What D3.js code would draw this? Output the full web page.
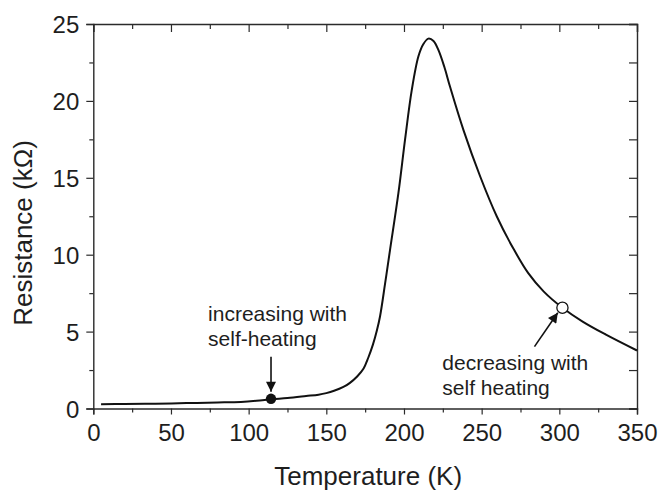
<!DOCTYPE html>
<html>
<head>
<meta charset="utf-8">
<script src="https://cdn.jsdelivr.net/npm/d3@7"></script>
<style>
  html, body { margin: 0; padding: 0; background: #fff; }
  svg { display: block; font-family: "Liberation Sans", Arial, Helvetica, sans-serif; }
</style>
</head>
<body>
<svg id="chart" width="670" height="490"></svg>
<script>
// ---- Data ----
const temperature = [5, 20, 40, 60, 80, 95, 105, 115, 125, 137, 145, 150, 155, 161, 165, 170, 174, 177, 180, 182.5, 184.6, 187.8, 191, 196.4, 200.7, 205, 209.3, 212.5, 215.7, 219, 222.2, 226, 229.7, 238.3, 249, 259.7, 270.4, 280, 290, 302, 315, 330, 350];
const resistance  = [0.28, 0.29, 0.31, 0.35, 0.39, 0.43, 0.5, 0.6, 0.68, 0.81, 0.9, 1.0, 1.15, 1.4, 1.65, 2.1, 2.6, 3.3, 4.15, 5.05, 6.0, 8.1, 10.3, 14.0, 17.5, 20.7, 22.9, 23.7, 24.05, 23.9, 23.3, 22.2, 20.9, 18.1, 15.1, 12.5, 10.4, 8.8, 7.6, 6.55, 5.65, 4.8, 3.77];

const xTicks = [0, 50, 100, 150, 200, 250, 300, 350];
const yTicks = [0, 5, 10, 15, 20, 25];
const xMinorTicks = [25, 75, 125, 175, 225, 275, 325];
const yMinorTicks = [2.5, 7.5, 12.5, 17.5, 22.5];

const xLabel = "Temperature (K)";
const yLabel = "Resistance (kΩ)";

// marked points: [T, R]
const heatingUpPoint = [114.4, 0.63];
const heatingDownPoint = [302, 6.55];
const annotationUp = ["increasing with", "self-heating"];
const annotationDown = ["decreasing with", "self heating"];

// ---- Layout ----
const margin = { left: 93.3, top: 24, right: 670 - 637, bottom: 490 - 408.5 };
const W = 670, H = 490;
const x = d3.scaleLinear().domain([0, 350]).range([margin.left, W - margin.right]);
const y = d3.scaleLinear().domain([0, 25]).range([H - margin.bottom, margin.top]);

const svg = d3.select("#chart");
const axisColor = "#2b2b2b";
const textColor = "#1e1e1e";

// defs: arrow head
svg.append("defs").append("marker")
  .attr("id", "arrow")
  .attr("viewBox", "0 0 10 10")
  .attr("refX", 10).attr("refY", 5)
  .attr("markerWidth", 16).attr("markerHeight", 10)
  .attr("markerUnits", "userSpaceOnUse")
  .attr("orient", "auto")
  .append("path").attr("d", "M0,0 L10,5 L0,10 Z").attr("fill", "#111");

// ---- Axes ----
function styleAxis(g) {
  g.selectAll("path.domain").attr("stroke", axisColor).attr("stroke-width", 1.4);
  g.selectAll(".tick line").attr("stroke", axisColor).attr("stroke-width", 1.2);
  g.selectAll(".tick text").attr("fill", textColor).attr("font-size", 24)
    .attr("font-family", "'Liberation Sans', Arial, Helvetica, sans-serif");
}

// bottom (outward ticks)
const gx = svg.append("g").attr("transform", `translate(0,${y(0)})`)
  .call(d3.axisBottom(x).tickValues(xTicks).tickSize(6).tickPadding(9).tickFormat(d3.format("d")));
styleAxis(gx);
svg.append("g").attr("transform", `translate(0,${y(0)})`)
  .call(d3.axisBottom(x).tickValues(xMinorTicks).tickSize(4).tickFormat(""))
  .call(g => { g.select(".domain").remove(); styleAxis(g); });

// left (outward ticks)
const gy = svg.append("g").attr("transform", `translate(${x(0)},0)`)
  .call(d3.axisLeft(y).tickValues(yTicks).tickSize(7).tickPadding(7).tickFormat(d3.format("d")));
styleAxis(gy);
gy.selectAll(".tick text").attr("dy", "0.36em");
svg.append("g").attr("transform", `translate(${x(0)},0)`)
  .call(d3.axisLeft(y).tickValues(yMinorTicks).tickSize(4).tickFormat(""))
  .call(g => { g.select(".domain").remove(); styleAxis(g); });

// top (inward ticks)
const gt = svg.append("g").attr("transform", `translate(0,${y(25)})`)
  .call(d3.axisTop(x).tickValues(xTicks).tickSize(-8).tickFormat(""));
styleAxis(gt);
svg.append("g").attr("transform", `translate(0,${y(25)})`)
  .call(d3.axisTop(x).tickValues(xMinorTicks).tickSize(-5).tickFormat(""))
  .call(g => { g.select(".domain").remove(); styleAxis(g); });

// right (inward ticks)
const gr = svg.append("g").attr("transform", `translate(${x(350)},0)`)
  .call(d3.axisRight(y).tickValues(yTicks).tickSize(-8).tickFormat(""));
styleAxis(gr);
svg.append("g").attr("transform", `translate(${x(350)},0)`)
  .call(d3.axisRight(y).tickValues(yMinorTicks).tickSize(-8).tickFormat(""))
  .call(g => { g.select(".domain").remove(); styleAxis(g); });

// ---- Axis titles ----
svg.append("text")
  .attr("x", (x(0) + x(350)) / 2 + 3).attr("y", 485)
  .attr("text-anchor", "middle").attr("font-size", 26).attr("fill", textColor)
  .text(xLabel);

svg.append("text")
  .attr("transform", `translate(32,${233}) rotate(-90)`)
  .attr("text-anchor", "middle").attr("font-size", 26).attr("fill", textColor)
  .text(yLabel);

// ---- Curve ----
const data = temperature.map((t, i) => ({ t, r: resistance[i] }));
const line = d3.line().x(d => x(d.t)).y(d => y(d.r)).curve(d3.curveCatmullRom.alpha(0.5));
svg.append("path").datum(data)
  .attr("d", line).attr("fill", "none").attr("stroke", "#111").attr("stroke-width", 2);

// ---- Annotations ----
// arrow 1 (vertical, down to filled dot)
svg.append("line")
  .attr("x1", x(heatingUpPoint[0])).attr("y1", y(3.37))
  .attr("x2", x(heatingUpPoint[0])).attr("y2", y(1.09))
  .attr("stroke", "#111").attr("stroke-width", 1.6).attr("marker-end", "url(#arrow)");

// arrow 2 (diagonal, up to open circle)
svg.append("line")
  .attr("x1", x(284.0)).attr("y1", y(4.02))
  .attr("x2", x(299.0)).attr("y2", y(6.23))
  .attr("stroke", "#111").attr("stroke-width", 1.6).attr("marker-end", "url(#arrow)");

svg.append("circle")
  .attr("cx", x(heatingUpPoint[0])).attr("cy", y(heatingUpPoint[1]))
  .attr("r", 5.2).attr("fill", "#111");

svg.append("circle")
  .attr("cx", x(heatingDownPoint[0])).attr("cy", y(heatingDownPoint[1]))
  .attr("r", 5.6).attr("fill", "#fff").attr("stroke", "#111").attr("stroke-width", 1.3);

const t1 = svg.append("text").attr("font-size", 21).attr("fill", textColor);
t1.append("tspan").attr("x", x(73.9)).attr("y", y(5.69)).text(annotationUp[0]);
t1.append("tspan").attr("x", x(73.9)).attr("y", y(4.06)).text(annotationUp[1]);

const t2 = svg.append("text").attr("font-size", 21).attr("fill", textColor);
t2.append("tspan").attr("x", x(224.7)).attr("y", y(2.5)).text(annotationDown[0]);
t2.append("tspan").attr("x", x(224.7)).attr("y", y(0.88)).text(annotationDown[1]);
</script>
</body>
</html>
